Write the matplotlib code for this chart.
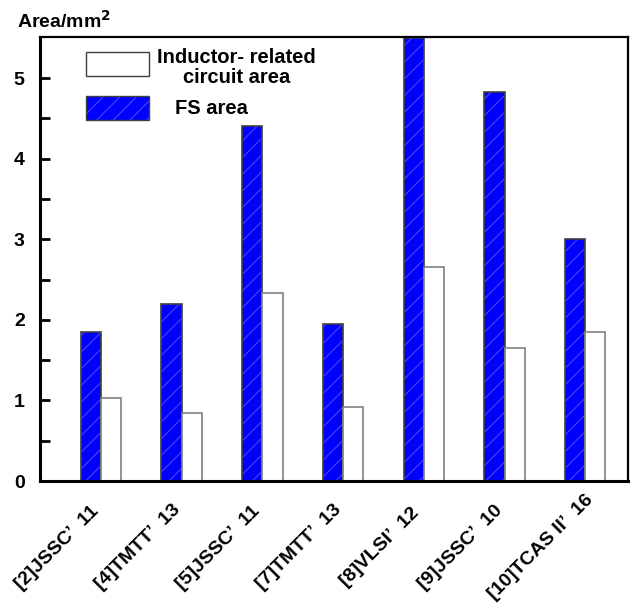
import numpy as np
import matplotlib.pyplot as plt
import matplotlib.transforms as mtransforms
from matplotlib.patches import Rectangle

plt.rcParams['font.family'] = ['Liberation Sans', 'DejaVu Sans']
plt.rcParams['font.weight'] = 'bold'
plt.rcParams['hatch.linewidth'] = 0.7

# paper references and their areas (mm^2)
refs = ["[2]JSSC\u2019  11", "[4]TMTT\u2019  13", "[5]JSSC\u2019  11", "[7]TMTT\u2019  13",
        "[8]VLSI\u2019  12", "[9]JSSC\u2019  10", "[10]TCAS II\u2019  16"]
fs_area = [1.85, 2.2, 4.4, 1.95, 5.5, 4.83, 3.0]
inductor_area = [1.03, 0.85, 2.33, 0.92, 2.65, 1.65, 1.85]

x = np.arange(len(refs))
w = 0.25
blue = '#0000ff'
hatch_col = '#5050ff'

fig = plt.figure(figsize=(6.32, 6.04), dpi=100)
ax = fig.add_axes([0.0633, 0.2036, 0.9304, 0.7351])

# hatched fill first (edge colour sets hatch colour), outline on top
ax.bar(x - w / 2, fs_area, w, color=blue, edgecolor=hatch_col,
       linewidth=0, hatch='//')
ax.bar(x - w / 2, fs_area, w, fill=False, edgecolor='#404040', linewidth=1.2)
ax.bar(x + w / 2, inductor_area, w, color='white', edgecolor='#808080',
       linewidth=1.2)

ax.set_xlim(-0.754, 6.53)
ax.set_ylim(0, 5.51)
ax.set_yticks([0, 1, 2, 3, 4, 5])
ax.set_yticks(np.arange(0.5, 5.5, 1.0), minor=True)
ax.tick_params(axis='y', which='both', direction='in', length=7.5, width=2,
               labelsize=14, pad=11)
ax.set_xticks(x)
ax.set_xticklabels(refs, fontsize=14, fontweight='bold')
ax.tick_params(axis='x', length=0, pad=0)
# rotated labels centred below-left of each group
shift = mtransforms.ScaledTranslation(-0.44, -0.665, fig.dpi_scale_trans)
for lab in ax.get_xticklabels():
    lab.set_rotation(45)
    lab.set_rotation_mode('anchor')
    lab.set_ha('center')
    lab.set_va('center')
    lab.set_transform(lab.get_transform() + shift)
for lab in ax.get_yticklabels():
    lab.set_fontweight('bold')

for side in ['left', 'bottom']:
    ax.spines[side].set_linewidth(2.2)
for side in ['top', 'right']:
    ax.spines[side].set_linewidth(1.6)

# legend drawn in axes space
ax.add_patch(Rectangle((0.078, 0.912), 0.107, 0.054, transform=ax.transAxes,
                       facecolor='white', edgecolor='#404040', linewidth=1.0))
ax.add_patch(Rectangle((0.078, 0.813), 0.107, 0.054, transform=ax.transAxes,
                       facecolor=blue, edgecolor=hatch_col, linewidth=0,
                       hatch='//'))
ax.add_patch(Rectangle((0.078, 0.813), 0.107, 0.054, transform=ax.transAxes,
                       fill=False, edgecolor='#404040', linewidth=1.0))
ax.text(0.334, 0.932, "Inductor- related\ncircuit area", transform=ax.transAxes,
        ha='center', va='center', multialignment='center', fontsize=14.5,
        fontweight='bold', linespacing=1.05)
ax.text(0.2296, 0.840, "FS area", transform=ax.transAxes, ha='left',
        va='center', fontsize=14.5, fontweight='bold')

fig.text(0.027, 0.965, "Area/mm$^\\mathbf{2}$", fontsize=14, fontweight='bold',
         ha='left', va='center')

fig.savefig('out.png', dpi=100)
